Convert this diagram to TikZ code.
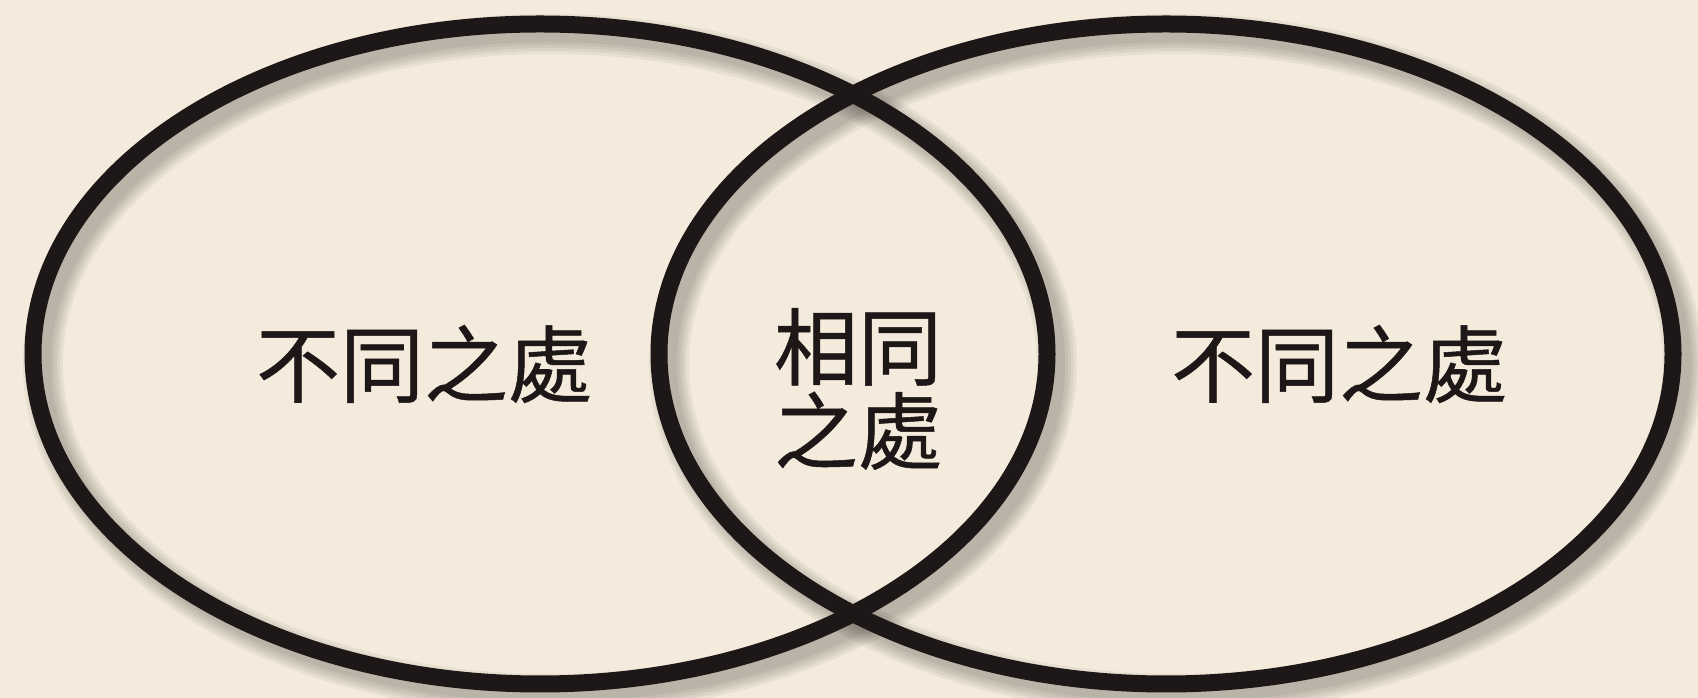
\documentclass[tikz,border=0pt]{standalone}
\usepackage{fontspec}
\newfontfamily\cjk[FakeBold=0.6]{Noto Sans CJK TC}
\definecolor{bg}{HTML}{F4EBDC}
\definecolor{ink}{HTML}{1E1718}
\tikzset{
  ring/.style={draw=ink, line width=17pt},
  shade/.style={draw=black, line width=#1, opacity=0.05},
  lbl/.style={font=\cjk\fontsize{84}{84}\selectfont, text=ink, align=center, inner sep=0pt}
}
\begin{document}
\begin{tikzpicture}[x=1pt,y=1pt]
\fill[bg] (0,0) rectangle (1698,698);
\useasboundingbox (0,0) rectangle (1698,698);
\coordinate (cl) at (540,344);
\coordinate (cr) at (1166,344);
% soft shadows
\foreach \w in {40,34,28,22,16} {
  \draw[shade=\w pt] ([shift={(10,-10)}]cl) ellipse [x radius=507, y radius=330];
  \draw[shade=\w pt] ([shift={(10,-10)}]cr) ellipse [x radius=507, y radius=330];
}
\draw[ring] (cl) ellipse [x radius=507, y radius=330];
\draw[ring] (cr) ellipse [x radius=507, y radius=330];
\node[lbl] (ldiff) at (424,334) {不同之處};
\node[lbl] (rdiff) at (1339,334) {不同之處};
\node[lbl] (same) at (858,309) {相同\\之處};
\end{tikzpicture}
\end{document}
